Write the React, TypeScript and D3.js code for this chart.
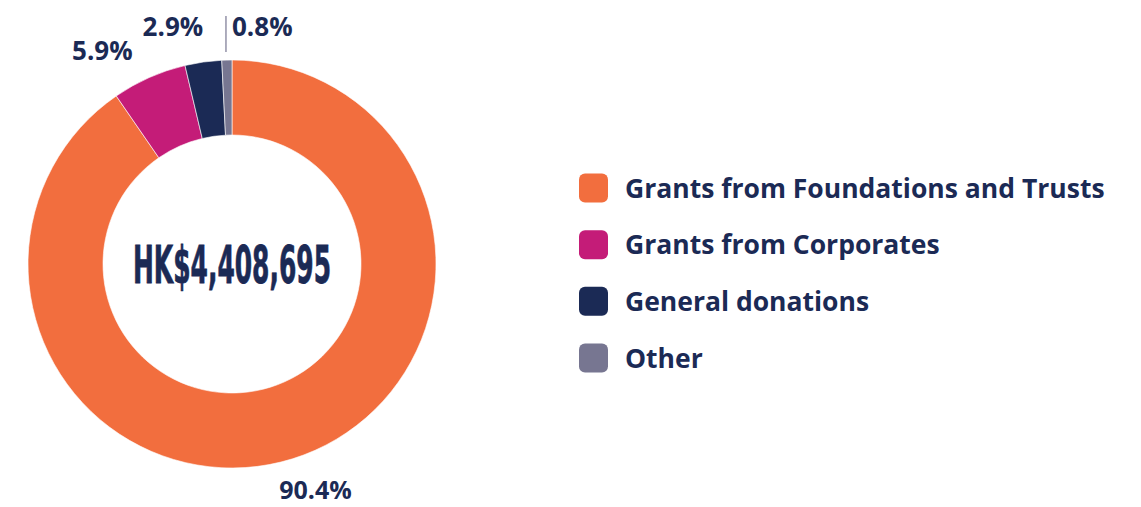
import React from 'react';
import * as d3 from 'd3';

const categories = ['Grants from Foundations and Trusts', 'Grants from Corporates', 'General donations', 'Other'];
const shares = [90.4, 5.9, 2.9, 0.8];
const labels = ['90.4%', '5.9%', '2.9%', '0.8%'];
const colors = ['#F26E3E', '#C41C78', '#1B2A55', '#777691'];
const totalLabel = 'HK$4,408,695';

const W = 1141;
const H = 507;
const cx = 232;
const cy = 264;
const outerR = 204;
const innerR = 129;
const ink = '#1B2A55';
const font = "'Open Sans', 'Noto Sans', sans-serif";

export default function App() {
  const data = categories.map((c, i) => ({ name: c, value: shares[i], label: labels[i], color: colors[i] }));
  const pie = d3.pie<any>().sort(null).value(d => d.value).startAngle(0).endAngle(2 * Math.PI);
  const arcs = pie(data);
  const arc = d3.arc<any>().innerRadius(innerR).outerRadius(outerR);

  const polar = (a: number, r: number) => [Math.sin(a) * r, -Math.cos(a) * r];

  const legendY = d3.scalePoint<string>().domain(categories).range([188, 358]);

  // small manual nudges so the crowded top labels don't collide
  const nudge = [[14, 12], [-2, 15], [5, 10], [6, 12]];

  return (
    <svg width={W} height={H} style={{ position: 'absolute', left: 0, top: 0, background: '#fff' }}>
      <g transform={`translate(${cx},${cy})`}>
        {arcs.map((a, i) => (
          <path key={i} d={arc(a) as string} fill={a.data.color} stroke="#fff" strokeWidth={0.6} />
        ))}
        {arcs.map((a, i) => {
          const mid = (a.startAngle + a.endAngle) / 2;
          const [dx, dy] = nudge[i];
          if (i === 0) {
            const [x, y] = polar(mid, outerR + 30);
            return (
              <text key={i} x={x + dx} y={y + dy} textAnchor="middle" fontFamily={font} fontWeight={700} fontSize={25} fill={ink}>
                {a.data.label}
              </text>
            );
          }
          const [x, y] = polar(mid, outerR + 36);
          if (i === arcs.length - 1) {
            return (
              <g key={i}>
                <line x1={x} x2={x} y1={y - 8} y2={y + 28} stroke="#777691" strokeWidth={1.2} />
                <text x={x + dx} y={y + dy} textAnchor="start" fontFamily={font} fontWeight={700} fontSize={26} fill={ink}>
                  {a.data.label}
                </text>
              </g>
            );
          }
          return (
            <text key={i} x={x + dx} y={y + dy} textAnchor="end" fontFamily={font} fontWeight={700} fontSize={26} fill={ink}>
              {a.data.label}
            </text>
          );
        })}
        <text
          x={0}
          y={19}
          textAnchor="middle"
          fontFamily="'DejaVu Sans Condensed', 'Liberation Sans Narrow', sans-serif"
          fontWeight={700}
          fontSize={52}
          textLength={198}
          lengthAdjust="spacingAndGlyphs"
          fill={ink}
          stroke={ink}
          strokeWidth={0.8}
        >
          {totalLabel}
        </text>
      </g>
      <g>
        {data.map(d => (
          <g key={d.name} transform={`translate(579,${legendY(d.name)})`}>
            <rect x={0} y={-14.5} width={29} height={29} rx={6} fill={d.color} />
            <text x={46} y={9.5} fontFamily={font} fontWeight={700} fontSize={26.5} fill={ink}>
              {d.name}
            </text>
          </g>
        ))}
      </g>
    </svg>
  );
}
